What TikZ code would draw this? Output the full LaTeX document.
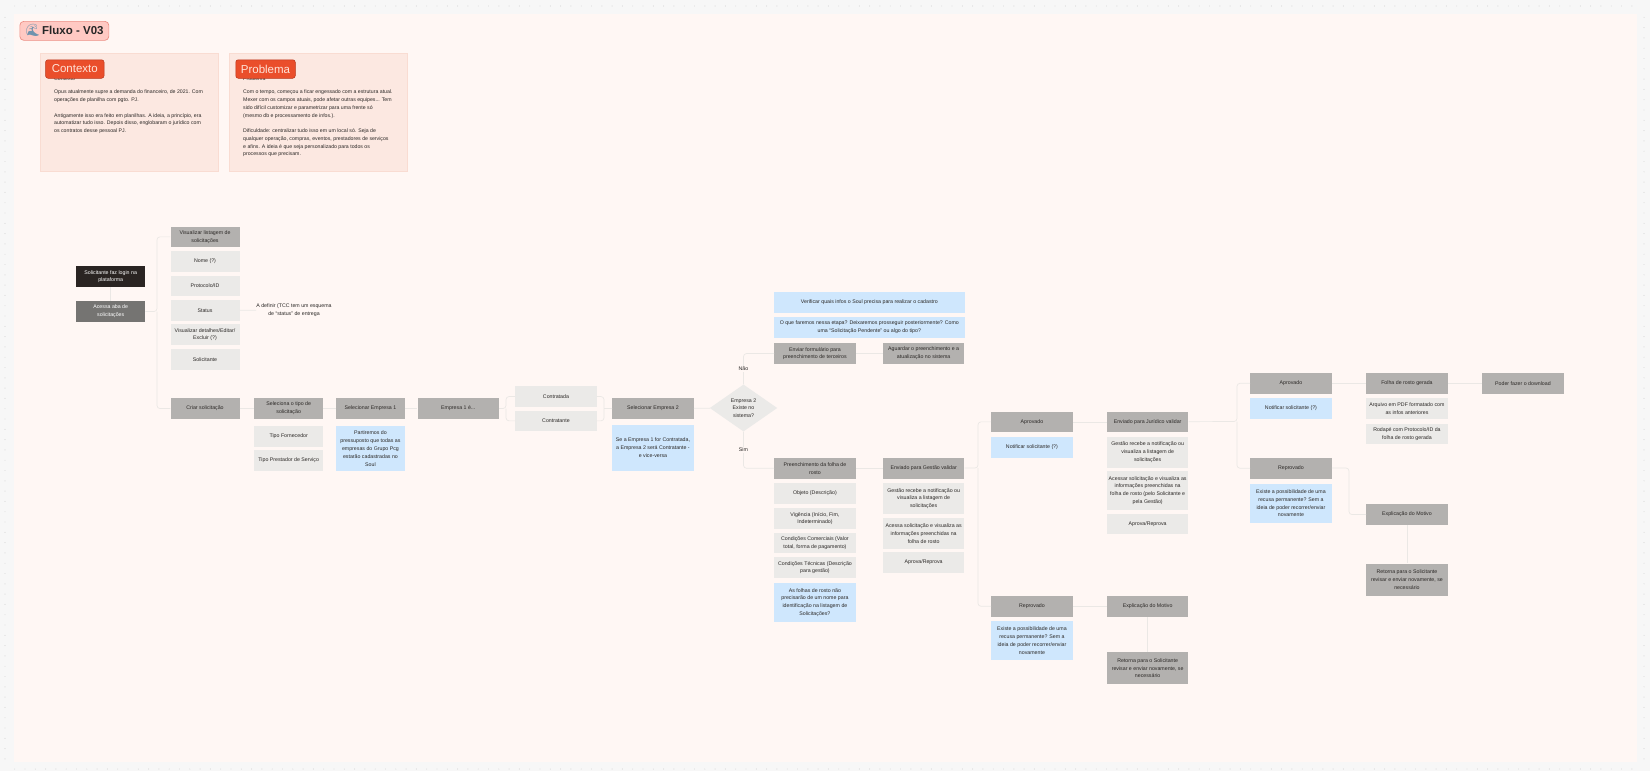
\documentclass[tikz,border=0pt]{standalone}
\usepackage{fontspec}
\setmainfont{Liberation Sans}
\newfontfamily\emojifont{Noto Emoji}
\usetikzlibrary{positioning, shapes.geometric}
\definecolor{pageBg}{HTML}{F7F7F7}
\definecolor{boardBg}{HTML}{FFF7F4}
\definecolor{dotGrey}{HTML}{C4C4C4}
\definecolor{linkGrey}{HTML}{EBE8E5}
\definecolor{inkDark}{HTML}{2B2826}
\definecolor{stepGrey}{HTML}{B3B1AF}
\definecolor{itemGrey}{HTML}{EBEAE8}
\definecolor{noteBlue}{HTML}{CFE7FD}
\definecolor{loginDark}{HTML}{2A2422}
\definecolor{abaGrey}{HTML}{757472}
\definecolor{cardFill}{HTML}{FCE8E1}
\definecolor{cardEdge}{HTML}{F9DCD2}
\definecolor{tagFill}{HTML}{EA4E2B}
\definecolor{tagEdge}{HTML}{B9351A}
\definecolor{tagText}{HTML}{FFE3D8}
\definecolor{titleFill}{HTML}{FFC9C3}
\definecolor{titleEdge}{HTML}{EC8F85}
\definecolor{waveBlue}{HTML}{6F93AE}

\begin{document}
\begin{tikzpicture}[x=1pt, y=-1pt,
    every node/.style={font=\fontsize{5.25}{7.8}\selectfont, text=inkDark, align=center, inner sep=0pt},
    stepbox/.style={rectangle, fill=stepGrey, anchor=north west, minimum height=20.7},
    itembox/.style={rectangle, fill=itemGrey, anchor=north west, minimum height=20.7},
    notebox/.style={rectangle, fill=noteBlue, anchor=north west, minimum height=20.7},
    narrow/.style={minimum width=69},
    wide/.style={minimum width=81.5},
    link/.style={draw=linkGrey, line width=0.7pt, rounded corners=3pt},
    card/.style={rectangle, fill=cardFill, draw=cardEdge, line width=0.5pt, anchor=north west,
        minimum width=178, minimum height=118},
    cardtext/.style={anchor=north west, align=left, font=\fontsize{5.2}{7.75}\selectfont},
    tag/.style={rectangle, rounded corners=2.5pt, fill=tagFill, draw=tagEdge, line width=0.5pt,
        minimum height=18.5, anchor=north west, text=tagText, font=\fontsize{11.5}{13}\selectfont},
    branchlabel/.style={fill=boardBg, inner sep=1pt},
]

\useasboundingbox (0, 0) rectangle (1650, 771);
\fill[pageBg] (0, 0) rectangle (1650, 771);
\fill[boardBg] (14, 14) rectangle (1637, 762);

% Dots around the board
\foreach \i in {0,...,157} {
    \fill[dotGrey] (14.7+10.3*\i, 6) circle (0.45);
    \fill[dotGrey] (14.7+10.3*\i, 769) circle (0.45);
}
\foreach \j in {0,...,72} {
    \fill[dotGrey] (5, 17.3+10.3*\j) circle (0.45);
    \fill[dotGrey] (1644, 17.3+10.3*\j) circle (0.45);
}

% ── Title and cards ────────────────────────────────────────────────────
\node[rectangle, rounded corners=4pt, fill=titleFill, draw=titleEdge, line width=0.7pt,
      anchor=north west, minimum width=89, minimum height=19] (title) at (19.5, 21) {};
\node[anchor=west, text=waveBlue, font=\emojifont\fontsize{12}{12}\selectfont] (wave) at (25, 30.5) {🌊};
\node[anchor=west, font=\fontsize{11.5}{13}\selectfont\bfseries, text=black!85] (titletext) at (42, 30.5) {Fluxo - V03};

\node[card] (contextocard) at (40, 53) {};
\node[cardtext] (contextohead) at (54, 76.5) {Contexto};
\node[cardtext] (contextobody) at (54, 90) {Opus atualmente supre a demanda do financeiro, de 2021. Com\\
    operações de planilha com pgto. PJ.\\[7.7pt]
    Antigamente isso era feito em planilhas. A ideia, a princípio, era\\
    automatizar tudo isso. Depois disso, englobaram o jurídico com\\
    os contratos desse pessoal PJ.};
\node[tag, minimum width=58.5] (contextotag) at (45.3, 59.5) {Contexto};

\node[card] (problemacard) at (229, 53) {};
\node[cardtext] (problemahead) at (243, 76.5) {Problema};
\node[cardtext] (problemabody) at (243, 90) {Com o tempo, começou a ficar engessado com a estrutura atual.\\
    Mexer com os campos atuais, pode afetar outras equipes... Tem\\
    sido difícil customizar e parametrizar para uma frente só\\
    (mesmo db e processamento de infos.).\\[7.7pt]
    Dificuldade: centralizar tudo isso em um local só. Seja de\\
    qualquer operação, compras, eventos, prestadores de serviços\\
    e afins. A ideia é que seja personalizado para todos os\\
    processos que precisam.};
\node[tag, minimum width=59.5] (problematag) at (235.5, 59.5) {Problema};

% ── Entrada ────────────────────────────────────────────────────────────
\node[stepbox, narrow, fill=loginDark, text=white] (login) at (76, 266) {Solicitante faz login na\\plataforma};
\node[stepbox, narrow, fill=abaGrey, text=white] (aba) at (76, 301) {Acessa aba de\\solicitações};

% ── Listagem ───────────────────────────────────────────────────────────
\node[stepbox, narrow] (lista) at (170.3, 226.3) {Visualizar listagem de\\solicitações};
\node[itembox, narrow] (nome) at (170.3, 251) {Nome (?)};
\node[itembox, narrow] (protocolo) at (170.3, 275.3) {Protocolo/ID};
\node[itembox, narrow] (status) at (170.3, 300) {Status};
\node[itembox, narrow] (detalhes) at (170.3, 324) {Visualizar detalhes/Editar/\\Excluir (?)};
\node[itembox, narrow] (solicitante) at (170.3, 348.7) {Solicitante};
\node (definir) at (294, 310) {A definir (TCC tem um esquema\\de ``status'' de entrega};

% ── Criação ────────────────────────────────────────────────────────────
\node[stepbox, narrow] (criar) at (170.3, 398) {Criar solicitação};
\node[stepbox, narrow] (tipo) at (254, 398) {Seleciona o tipo de\\solicitação};
\node[itembox, narrow] (fornecedor) at (254, 426) {Tipo Fornecedor};
\node[itembox, narrow] (prestador) at (254, 450) {Tipo Prestador de Serviço};
\node[stepbox, minimum width=68.5] (empresaA) at (336, 398) {Selecionar Empresa 1};
\node[notebox, minimum width=68.5, minimum height=45] (pressuposto) at (336, 426) {Partiremos do\\pressuposto que todas as\\empresas do Grupo Pcg\\estarão cadastradas no\\Soul};
\node[stepbox, wide] (empresaE) at (417.3, 398) {Empresa 1 é...};
\node[itembox, wide] (contratada) at (515, 386) {Contratada};
\node[itembox, wide] (contratante) at (515, 410.3) {Contratante};
\node[stepbox, wide] (empresaB) at (612, 398) {Selecionar Empresa 2};
\node[notebox, wide, minimum height=46] (viceversa) at (612, 424.3) {Se a Empresa 1 for Contratada,\\a Empresa 2 será Contratante -\\e vice-versa};

\node[diamond, fill=itemGrey, aspect=1.43, minimum width=67.5, minimum height=47] (existe) at (743.5, 408) {Empresa 2\\Existe no\\sistema?};

% ── Empresa fora do sistema ────────────────────────────────────────────
\node[notebox, minimum width=190.3] (infos) at (774, 291.7) {Verificar quais infos o Soul precisa para realizar o cadastro};
\node[notebox, minimum width=190.3] (etapa) at (774, 317) {O que faremos nessa etapa? Deixaremos prosseguir posteriormente? Como\\uma ``Solicitação Pendente'' ou algo do tipo?};
\node[stepbox, wide] (formulario) at (774, 343) {Enviar formulário para\\preenchimento de terceiros};
\node[stepbox, wide] (aguardar) at (882.7, 343) {Aguardar o preenchimento e a\\atualização no sistema};

% ── Folha de rosto ─────────────────────────────────────────────────────
\node[stepbox, wide] (folha) at (774, 457.7) {Preenchimento da folha de\\rosto};
\node[itembox, wide] (objeto) at (774, 483) {Objeto (Descrição)};
\node[itembox, wide] (vigencia) at (774, 508) {Vigência (Início, Fim,\\Indeterminado)};
\node[itembox, wide] (comerciais) at (774, 532.3) {Condições Comerciais (Valor\\total, forma de pagamento)};
\node[itembox, wide] (tecnicas) at (774, 557) {Condições Técnicas (Descrição\\para gestão)};
\node[notebox, wide, minimum height=39] (nomefolha) at (774, 582.7) {As folhas de rosto não\\precisarão de um nome para\\identificação na listagem de\\Solicitações?};

% ── Gestão ─────────────────────────────────────────────────────────────
\node[stepbox, wide] (gestao) at (882.7, 457.7) {Enviado para Gestão validar};
\node[itembox, wide, minimum height=30.5] (gestaoA) at (882.7, 483) {Gestão recebe a notificação ou\\visualiza a listagem de\\solicitações};
\node[itembox, wide, minimum height=30.5] (gestaoB) at (882.7, 518) {Acessa solicitação e visualiza as\\informações preenchidas na\\folha de rosto};
\node[itembox, wide] (gestaoC) at (882.7, 552) {Aprova/Reprova};

\node[stepbox, wide] (aprovadoA) at (991, 411.3) {Aprovado};
\node[notebox, wide] (notificarA) at (991, 436.7) {Notificar solicitante (?)};
\node[stepbox, wide] (reprovadoA) at (991, 595.7) {Reprovado};
\node[notebox, wide, minimum height=39] (recusaA) at (991, 621) {Existe a possibilidade de uma\\recusa permanente? Sem a\\ideia de poder recorrer/enviar\\novamente};
\node[stepbox, wide] (motivoA) at (1106.7, 595.7) {Explicação do Motivo};
\node[stepbox, wide, minimum height=32] (retornaA) at (1106.7, 652) {Retorna para o Solicitante\\revisar e enviar novamente, se\\necessário};

% ── Jurídico ───────────────────────────────────────────────────────────
\node[stepbox, wide] (juridico) at (1106.7, 411.3) {Enviado para Jurídico validar};
\node[itembox, wide, minimum height=31] (juridicoA) at (1106.7, 436.7) {Gestão recebe a notificação ou\\visualiza a listagem de\\solicitações};
\node[itembox, wide, minimum height=39] (juridicoB) at (1106.7, 470.7) {Acessar solicitação e visualiza as\\informações preenchidas na\\folha de rosto (pelo Solicitante e\\pela Gestão)};
\node[itembox, wide] (juridicoC) at (1106.7, 513.3) {Aprova/Reprova};

\node[stepbox, wide] (aprovadoB) at (1250, 372.7) {Aprovado};
\node[notebox, wide] (notificarB) at (1250, 398) {Notificar solicitante (?)};
\node[stepbox, wide] (reprovadoB) at (1250, 457.7) {Reprovado};
\node[notebox, wide, minimum height=39] (recusaB) at (1250, 483.7) {Existe a possibilidade de uma\\recusa permanente? Sem a\\ideia de poder recorrer/enviar\\novamente};
\node[stepbox, wide] (gerada) at (1366, 372.7) {Folha de rosto gerada};
\node[itembox, wide] (arquivo) at (1366, 398) {Arquivo em PDF formatado com\\as infos anteriores};
\node[itembox, wide] (rodape) at (1366, 423.3) {Rodapé com Protocolo/ID da\\folha de rosto gerada};
\node[stepbox, wide] (download) at (1482, 372.7) {Poder fazer o download};
\node[stepbox, wide] (motivoB) at (1366, 504) {Explicação do Motivo};
\node[stepbox, wide, minimum height=32] (retornaB) at (1366, 563.3) {Retorna para o Solicitante\\revisar e enviar novamente, se\\necessário};

% ── Connectors ─────────────────────────────────────────────────────────
\coordinate (busAba) at (157, 311.5);
\coordinate (busEmpresa) at (506, 408.5);
\coordinate (busContrato) at (604, 408.5);
\coordinate (busGestao) at (978, 468);
\coordinate (busJuridico) at (1237, 421.5);
\coordinate (busReprova) at (1349, 468);

\draw[link] (login) -- (aba);
\draw[link] (aba) -- (busAba) |- (lista.west);
\draw[link] (busAba) |- (criar.west);
\draw[link] (status) -- (definir);
\draw[link] (criar) -- (tipo);
\draw[link] (tipo) -- (empresaA);
\draw[link] (empresaA) -- (empresaE);
\draw[link] (empresaE) -- (busEmpresa) |- (contratada.west);
\draw[link] (busEmpresa) |- (contratante.west);
\draw[link] (contratada.east) -| (busContrato);
\draw[link] (contratante.east) -| (busContrato);
\draw[link] (busContrato) -- (empresaB);
\draw[link] (empresaB) -- (existe);
\draw[link] (existe.north) |- node[pos=0.25, branchlabel] (nao) {Não} (formulario.west);
\draw[link] (existe.south) |- node[pos=0.25, branchlabel] (sim) {Sim} (folha.west);
\draw[link] (formulario) -- (aguardar);
\draw[link] (folha) -- (gestao);
\draw[link] (gestao) -- (busGestao) |- (aprovadoA.west);
\draw[link] (busGestao) |- (reprovadoA.west);
\draw[link] (aprovadoA) -- (juridico);
\draw[link] (reprovadoA) -- (motivoA);
\draw[link] (motivoA) -- (retornaA);
\draw[link] (juridico) -- (busJuridico) |- (aprovadoB.west);
\draw[link] (busJuridico) |- (reprovadoB.west);
\draw[link] (aprovadoB) -- (gerada);
\draw[link] (gerada) -- (download);
\draw[link] (reprovadoB) -- (busReprova) |- (motivoB.west);
\draw[link] (motivoB) -- (retornaB);

\end{tikzpicture}
\end{document}
